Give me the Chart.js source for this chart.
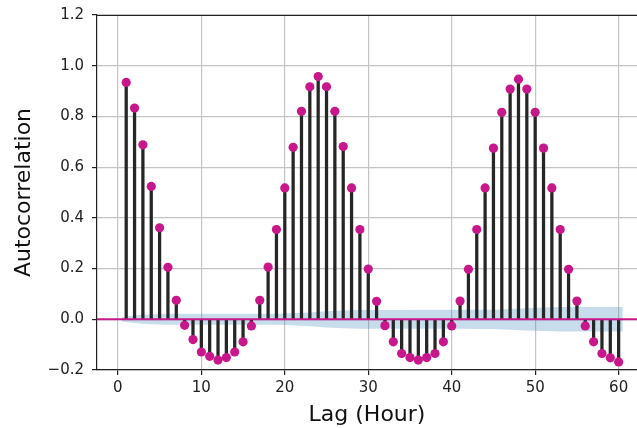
<!DOCTYPE html>
<html>
<head>
<meta charset="utf-8">
<script src="https://cdn.jsdelivr.net/npm/chart.js@4.4.0/dist/chart.umd.min.js"></script>
<style>
  html, body { margin: 0; padding: 0; background: #fff; overflow: hidden; }
  canvas { display: block; }
</style>
</head>
<body>
<canvas id="acfChart" width="637" height="428"></canvas>
<script>
// lags 1..60 and the autocorrelation
const lags = Array.from({ length: 60 }, (_, i) => i + 1);
const acfValues = [
  0.934, 0.833, 0.688, 0.524, 0.361, 0.205, 0.075, -0.024, -0.080, -0.129,
  -0.146, -0.161, -0.151, -0.129, -0.089, -0.026, 0.075, 0.206, 0.354, 0.518,
  0.678, 0.820, 0.917, 0.957, 0.917, 0.820, 0.681, 0.518, 0.354, 0.198,
  0.071, -0.025, -0.089, -0.135, -0.151, -0.161, -0.151, -0.135, -0.089, -0.026,
  0.072, 0.197, 0.354, 0.518, 0.675, 0.816, 0.908, 0.947, 0.908, 0.816,
  0.675, 0.518, 0.354, 0.197, 0.072, -0.026, -0.089, -0.135, -0.152, -0.168
];

// confidence band half width at a few lags
const bandLags = [0.5, 2, 3, 4, 5, 6, 8, 17, 19, 21, 23, 25, 27, 29, 32, 41, 43, 45, 47, 49, 51, 53, 56, 60.5];
const bandHalf = [0.009, 0.015, 0.018, 0.020, 0.021, 0.0215, 0.022, 0.022, 0.022, 0.024, 0.027, 0.032, 0.035, 0.037, 0.037,
  0.0375, 0.038, 0.038, 0.041, 0.044, 0.046, 0.048, 0.048, 0.048];

const xTicks = [0, 10, 20, 30, 40, 50, 60];
const yTicks = [-0.2, 0, 0.2, 0.4, 0.6, 0.8, 1.0, 1.2];

const pink = '#c8178a';

// top spine
const framePlugin = {
  id: 'frame',
  beforeDatasetsDraw(chart) {
    const { ctx, chartArea } = chart;
    ctx.save();
    ctx.strokeStyle = '#222';
    ctx.lineWidth = 1.2;
    ctx.beginPath();
    ctx.moveTo(chartArea.left, chartArea.top + 0.5);
    ctx.lineTo(chartArea.right, chartArea.top + 0.5);
    ctx.stroke();
    ctx.restore();
  }
};

const ctx = document.getElementById('acfChart').getContext('2d');
new Chart(ctx, {
  data: {
    datasets: [
      {
        type: 'scatter',
        data: lags.map((l, i) => ({ x: l, y: acfValues[i] })),
        backgroundColor: pink,
        borderWidth: 0,
        pointRadius: 4.6,
        order: 0
      },
      {
        type: 'line',
        data: [{ x: -2.5, y: 0 }, { x: 62.2, y: 0 }],
        borderColor: pink,
        borderWidth: 2,
        pointRadius: 0,
        order: 1
      },
      {
        type: 'bar',
        data: lags.map((l, i) => ({ x: l, y: acfValues[i] })),
        backgroundColor: '#262626',
        barThickness: 2.6,
        order: 2
      },
      {
        type: 'line',
        data: bandLags.map((l, i) => ({ x: l, y: bandHalf[i] })),
        borderWidth: 0,
        pointRadius: 0,
        fill: '+1',
        backgroundColor: 'rgba(31,119,180,0.25)',
        order: 3
      },
      {
        type: 'line',
        data: bandLags.map((l, i) => ({ x: l, y: -bandHalf[i] })),
        borderWidth: 0,
        pointRadius: 0,
        fill: false,
        order: 4
      }
    ]
  },
  options: {
    responsive: false,
    animation: false,
    layout: { autoPadding: false, padding: { top: 15, right: 0, left: 0, bottom: 0 } },
    plugins: { legend: { display: false }, tooltip: { enabled: false } },
    scales: {
      x: {
        type: 'linear',
        min: -2.5,
        max: 62.2,
        offset: false,
        afterBuildTicks: s => { s.ticks = xTicks.map(v => ({ value: v })); },
        afterFit: s => { s.height = 58; s.paddingRight = 0; s.paddingLeft = 0; },
        grid: { color: '#c4c4c4', lineWidth: 1.2, tickColor: '#222', tickLength: 5, offset: false },
        border: { color: '#222', width: 1.2 },
        ticks: { color: '#222', font: { family: 'DejaVu Sans', size: 15 }, padding: 4, maxRotation: 0 },
        title: {
          display: true,
          text: 'Lag (Hour)',
          color: '#111',
          font: { family: 'DejaVu Sans', size: 22 },
          padding: { top: 0, bottom: 0 }
        }
      },
      y: {
        type: 'linear',
        min: -0.2,
        max: 1.2,
        afterBuildTicks: s => { s.ticks = yTicks.map(v => ({ value: v })); },
        afterFit: s => { s.width = 97; s.paddingTop = 0; s.paddingBottom = 0; },
        grid: { color: '#c4c4c4', lineWidth: 1.2, tickColor: '#222', tickLength: 5 },
        border: { color: '#222', width: 1.2 },
        ticks: {
          color: '#222',
          font: { family: 'DejaVu Sans', size: 15 },
          padding: 8,
          callback: v => v.toFixed(1).replace('-', '\u2212')
        },
        title: {
          display: true,
          text: 'Autocorrelation',
          color: '#111',
          font: { family: 'DejaVu Sans', size: 22 },
          padding: { top: 11, bottom: 0 }
        }
      }
    }
  },
  plugins: [framePlugin]
});
</script>
</body>
</html>
